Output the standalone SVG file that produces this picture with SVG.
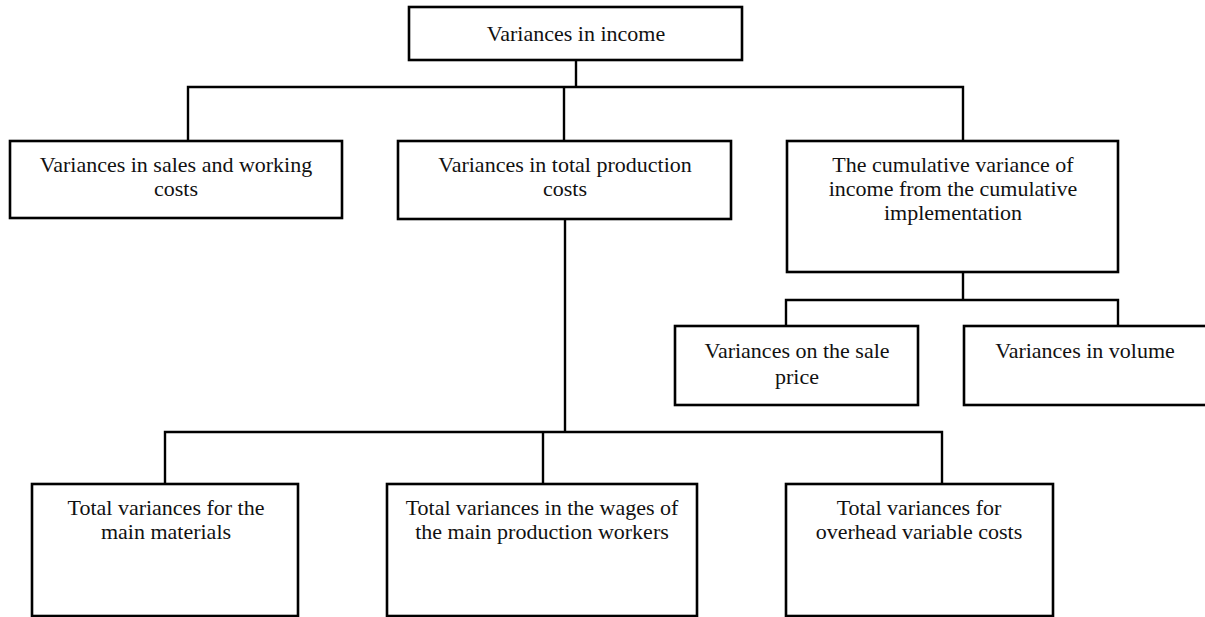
<svg xmlns="http://www.w3.org/2000/svg" width="1205" height="617" viewBox="0 0 1205 617">
<style>
.box{fill:#fff;stroke:#000;stroke-width:2.6}
.ln{fill:none;stroke:#000;stroke-width:2.4}
.t{font-size:22px;fill:#111;text-anchor:middle}
</style>
<rect width="1205" height="617" fill="#fff"/>
<g id="connectors">
<path class="ln" d="M576,60 V87"/>
<path class="ln" d="M188,141 V87 H963 V141"/>
<path class="ln" d="M564,87 V141"/>
<path class="ln" d="M565,219 V432"/>
<path class="ln" d="M165,484 V432 H942 V484"/>
<path class="ln" d="M543,432 V484"/>
<path class="ln" d="M963,272 V300"/>
<path class="ln" d="M786,326 V300 H1118 V326"/>
</g>
<g font-family="Liberation Serif, DejaVu Serif, serif">
<g id="n-income">
<rect class="box" x="409" y="7" width="333" height="53"/>
<text class="t" x="576" y="41">Variances in income</text>
</g>
<g id="n-sales">
<rect class="box" x="10" y="141" width="332" height="77"/>
<text class="t" x="176" y="172">Variances in sales and working</text>
<text class="t" x="176" y="196">costs</text>
</g>
<g id="n-production">
<rect class="box" x="398" y="141" width="333" height="78"/>
<text class="t" x="565" y="172">Variances in total production</text>
<text class="t" x="565" y="196">costs</text>
</g>
<g id="n-cumulative">
<rect class="box" x="787" y="141" width="331" height="131"/>
<text class="t" x="953" y="172">The cumulative variance of</text>
<text class="t" x="953" y="196">income from the cumulative</text>
<text class="t" x="953" y="220">implementation</text>
</g>
<g id="n-price">
<rect class="box" x="675" y="326" width="243" height="79"/>
<text class="t" x="797" y="358">Variances on the sale</text>
<text class="t" x="797" y="384">price</text>
</g>
<g id="n-volume">
<rect class="box" x="964" y="326" width="260" height="79"/>
<text class="t" x="1085" y="358">Variances in volume</text>
</g>
<g id="n-materials">
<rect class="box" x="32" y="484" width="266" height="132"/>
<text class="t" x="166" y="515">Total variances for the</text>
<text class="t" x="166" y="539">main materials</text>
</g>
<g id="n-wages">
<rect class="box" x="387" y="484" width="310" height="132"/>
<text class="t" x="542" y="515">Total variances in the wages of</text>
<text class="t" x="542" y="539">the main production workers</text>
</g>
<g id="n-overhead">
<rect class="box" x="786" y="484" width="267" height="132"/>
<text class="t" x="919" y="515">Total variances for</text>
<text class="t" x="919" y="539">overhead variable costs</text>
</g>
</g>
</svg>
